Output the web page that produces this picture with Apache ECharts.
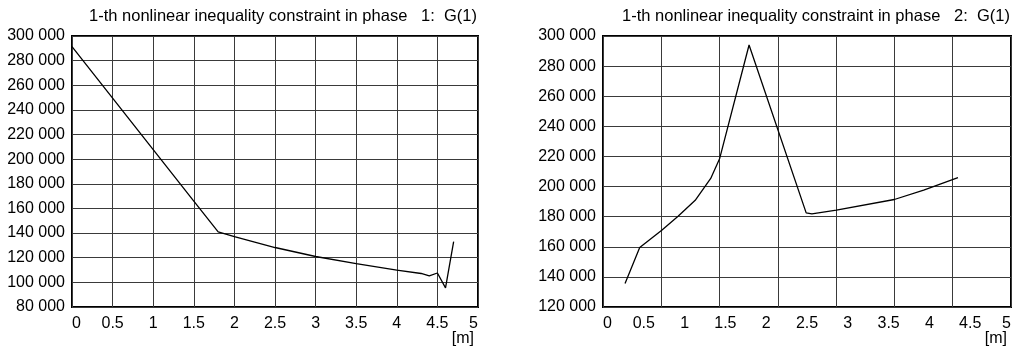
<!DOCTYPE html>
<html>
<head>
<meta charset="utf-8">
<script src="https://cdn.jsdelivr.net/npm/echarts@6/dist/echarts.min.js"></script>
<style>
  html, body { margin: 0; padding: 0; background: #fff; }
  #chart { width: 1017px; height: 352px; }
</style>
</head>
<body>
<div id="chart"></div>
<script>
/* ---------- data ---------- */
const titles = [
  "1-th nonlinear inequality constraint in phase   1:  G(1)",
  "1-th nonlinear inequality constraint in phase   2:  G(1)",
];
const unitLabel = "[m]";

// phase 1
const phase1X = [0, 0.5, 1, 1.5, 1.8, 2, 2.5, 3, 3.5, 4, 4.3, 4.4, 4.5, 4.6, 4.7];
const phase1Y = [291300, 249500, 207700, 166000, 141000, 137200, 128300, 121000, 115300, 110000, 107200, 105200, 107600, 95500, 133000];

// phase 2
const phase2X = [0.27, 0.45, 0.72, 0.92, 1.13, 1.32, 1.43, 1.79, 2.49, 2.56, 2.86, 3.57, 3.93, 4.35];
const phase2Y = [135600, 159500, 171000, 180300, 190900, 205400, 218700, 294000, 182500, 181800, 184300, 191400, 197600, 206000];

/* ---------- helpers ---------- */
const FONT = '"Liberation Sans", Arial, Helvetica, sans-serif';
const fmtThousands = (v) => String(v).replace(/\B(?=(\d{3})+(?!\d))/g, " ");
const zip = (xs, ys) => xs.map((x, i) => [x, ys[i]]);

const chart = echarts.init(document.getElementById("chart"), null, { renderer: "canvas" });

const gridStyle = { lineStyle: { color: "#3a3a3a", width: 1 } };
const textBase = { fontSize: 16, color: "#000", fontFamily: FONT };

function xAxisLabels(gridIndex, showSplit) {
  return {
    type: "value",
    gridIndex,
    min: 0,
    max: 5,
    interval: 0.5,
    axisLine: { show: false },
    axisTick: { show: false },
    splitLine: { show: showSplit, ...gridStyle },
    axisLabel: {
      ...textBase,
      margin: 9,
      alignMinLabel: "left",
      alignMaxLabel: "right",
    },
    name: unitLabel,
    nameLocation: "end",
    nameGap: 0,
    nameMoveOverlap: false,
    nameTextStyle: {
      ...textBase,
      align: "right",
      verticalAlign: "top",
      padding: [24, 4, 0, 0],
    },
  };
}

function yAxisDef(gridIndex, min, max) {
  return {
    type: "value",
    gridIndex,
    min,
    max,
    interval: 20000,
    axisLine: { show: false },
    axisTick: { show: false },
    splitLine: { show: true, ...gridStyle },
    axisLabel: { ...textBase, margin: 7, formatter: fmtThousands },
  };
}

const lineSeries = (xIdx, yIdx, data) => ({
  type: "line",
  xAxisIndex: xIdx,
  yAxisIndex: yIdx,
  data,
  showSymbol: false,
  silent: true,
  lineStyle: { color: "#000", width: 1.3 },
});

const titleStyle = { fontSize: 16.5, fontWeight: "normal", color: "#000", fontFamily: FONT };
const gridBase = {
  top: 36, bottom: 45, show: true, borderColor: "#000", borderWidth: 2,
  containLabel: false, outerBoundsMode: "none",
};

const option = {
  animation: false,
  backgroundColor: "#fff",
  title: [
    { text: titles[0], right: 540, top: 8, padding: 0, textStyle: titleStyle },
    { text: titles[1], right: 7, top: 8, padding: 0, textStyle: titleStyle },
  ],
  grid: [
    { ...gridBase, left: 72, right: 539 },
    { ...gridBase, left: 603, right: 6 },
  ],
  xAxis: [
    xAxisLabels(0, true),
    xAxisLabels(1, false),
    // right panel has its own grid spacing (7 columns), independent of the labels
    {
      type: "value", gridIndex: 1, min: 0, max: 7, interval: 1,
      axisLine: { show: false }, axisTick: { show: false }, axisLabel: { show: false },
      splitLine: { show: true, ...gridStyle },
    },
  ],
  yAxis: [
    yAxisDef(0, 80000, 300000),
    yAxisDef(1, 120000, 300000),
  ],
  series: [
    lineSeries(0, 0, zip(phase1X, phase1Y)),
    lineSeries(1, 1, zip(phase2X, phase2Y)),
  ],
};

chart.setOption(option);
</script>
</body>
</html>
